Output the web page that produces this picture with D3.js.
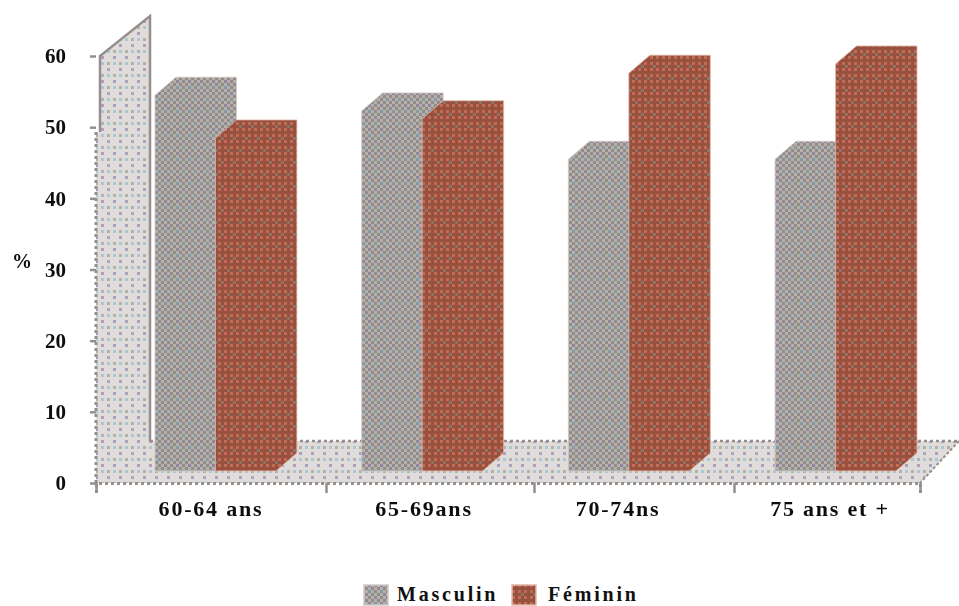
<!DOCTYPE html>
<html><head><meta charset="utf-8">
<script src="https://cdn.jsdelivr.net/npm/d3@7"></script>
<style>html,body{margin:0;padding:0;background:#fff}svg{display:block}
text{font-family:"Liberation Serif",serif;font-weight:bold;fill:#111}</style></head>
<body><div id="chart"></div>
<script>
const categories = ["60-64 ans","65-69ans","70-74ns","75 ans et +"];
const seriesNames = ["Masculin","Féminin"];
const masculin = [52.8,50.6,43.8,43.8];
const feminin = [46.8,49.5,55.9,57.2];
const yTickValues = [0,10,20,30,40,50,60];
const yLabel = "%";

const W=959,H=606;
const svg=d3.select("#chart").append("svg").attr("width",W).attr("height",H);
const defs=svg.append("defs");
const f=defs.append("filter").attr("id","soft").attr("x","-10%").attr("y","-10%").attr("width","120%").attr("height","120%");
f.append("feGaussianBlur").attr("stdDeviation",0.6);

function tile(id,w,h,bg,cells,tx,ty){
  const p=defs.append("pattern").attr("id",id).attr("patternUnits","userSpaceOnUse")
    .attr("width",w).attr("height",h).attr("patternTransform",`translate(${tx},${ty})`);
  p.append("rect").attr("width",w).attr("height",h).attr("fill",bg);
  cells.forEach(c=>p.append("rect").attr("x",c[0]).attr("y",c[1]).attr("width",3).attr("height",3).attr("fill",c[2]).attr("shape-rendering","crispEdges"));
}
const bl="#a9c9d8",gy="#b5b0ac",pu="#ab9fc2";
tile("wall",12,24,"#e0dcda",[[0,0,bl],[6,0,gy],[6,6,pu],[0,12,gy],[6,12,bl],[0,18,pu]],5,14);
const gA="#918c89",gC=[];
for(let y=0;y<24;y+=3)for(let x=0;x<12;x+=3){ if(((x+y)/3)%2===0) gC.push([x,y,gA]); }
gC.push([0,0,"#7f9ba8"],[6,6,"#8f86a0"],[6,12,"#7f9ba8"],[0,18,"#8f86a0"]);
tile("grayFill",12,24,"#b5b0ac",gC,2,2);
tile("redFill",12,24,"#98513f",[[0,0,"#c06c56"],[6,0,"#c06c56"],[0,6,"#c06c56"],[6,6,"#c06c56"],[0,12,"#c06c56"],[6,12,"#c06c56"],[0,18,"#c06c56"],[6,18,"#c06c56"],[9,3,"#8a7468"],[3,15,"#8a7468"]],2,2);

// scales
const y=d3.scaleLinear().domain([0,60]).range([483,56]);
const xTick=d3.scaleLinear().domain([0,1,2,3,4]).range([96,326,534,734,920]);
const xLabel=d3.scaleLinear().domain([0,1,2,3]).range([211,424,618,830]);
const x0=d3.scaleBand().domain(categories).range([155,896]).paddingInner(0.415).paddingOuter(0);
const x1=d3.scaleBand().domain(seriesNames).range([0,x0.bandwidth()]);
const dx=21,dy=18,lift=12;   // depth of the 3-D projection; bars stand inside the floor

// wall + floor
const edge="#948f8d";
const frame=[[96,483],[96,132],[100,132],[100,56],[150,16],[150,441],[959,441],[920,483]];
svg.append("polygon").attr("points",frame.join(" ")).attr("fill","url(#wall)");
const line=(pts,w,dash)=>svg.append("path").attr("d",d3.line()(pts)).attr("fill","none").attr("stroke",edge).attr("stroke-width",w).attr("stroke-dasharray",dash||null);
line([[100,132],[100,56],[150,16],[150,441]],2.5);
line([[96,483],[96,132]],3,"3 3");
line([[150,441],[959,441]],2.5,"3 3");
line([[959,441],[920,483]],2,"3 2");

// bars
const bars=[
  {name:seriesNames[0],vals:masculin,fill:"url(#grayFill)",edge:"#cfcac7"},
  {name:seriesNames[1],vals:feminin,fill:"url(#redFill)",edge:"#e2b6a6"}];
const pts=(x,w,v)=>{const b=y(0)-lift,t=y(v)-lift;
  return [[x,b],[x,t],[x+dx,t-dy],[x+w+dx,t-dy],[x+w+dx,b-dy],[x+w,b]];};
categories.forEach((c,i)=>bars.forEach(s=>{
  const x=x0(c)+x1(s.name),w=x1.bandwidth();
  svg.append("polygon").attr("points",pts(x,w,s.vals[i]).join(" "))
     .attr("fill",s.fill).attr("stroke",s.edge).attr("stroke-width",1).attr("stroke-opacity",0.8);
}));

// axes
const yAxis=d3.axisLeft(y).tickValues(yTickValues).tickSize(6).tickPadding(24).tickFormat(d3.format("d"));
const gy_=svg.append("g").attr("transform","translate(96,0)").call(yAxis);
gy_.select(".domain").remove();
gy_.selectAll("line").attr("stroke",edge).attr("stroke-width",2.5);
gy_.selectAll("text").attr("font-size",21).attr("font-family",null).attr("fill","#111").attr("filter","url(#soft)");

const xAxis=d3.axisBottom(xTick).tickValues([0,1,2,3,4]).tickSize(10).tickFormat("");
const gx=svg.append("g").attr("transform","translate(0,483)").call(xAxis);
gx.select(".domain").attr("stroke",edge).attr("stroke-width",3).attr("stroke-dasharray","3 3");
gx.selectAll("line").attr("stroke",edge).attr("stroke-width",2.5);

svg.append("g").selectAll("text").data(categories).join("text")
  .attr("x",(d,i)=>xLabel(i)).attr("y",516).attr("text-anchor","middle")
  .attr("font-size",22).attr("letter-spacing",1.8).attr("filter","url(#soft)").text(d=>d);
svg.append("text").attr("x",22).attr("y",268).attr("text-anchor","middle").attr("font-size",20).attr("filter","url(#soft)").text(yLabel);

// legend
const legend=[{n:seriesNames[0],sx:363,tx:397,fill:"url(#grayFill)",e:"#cfcac7"},{n:seriesNames[1],sx:511,tx:548,fill:"url(#redFill)",e:"#e2b6a6"}];
legend.forEach(l=>{
  svg.append("rect").attr("x",l.sx+1).attr("y",585).attr("width",24).attr("height",20).attr("fill",l.fill).attr("stroke",l.e).attr("stroke-width",1.5);
  svg.append("text").attr("x",l.tx).attr("y",601).attr("font-size",20).attr("letter-spacing",2.8).text(l.n);
});
</script></body></html>
